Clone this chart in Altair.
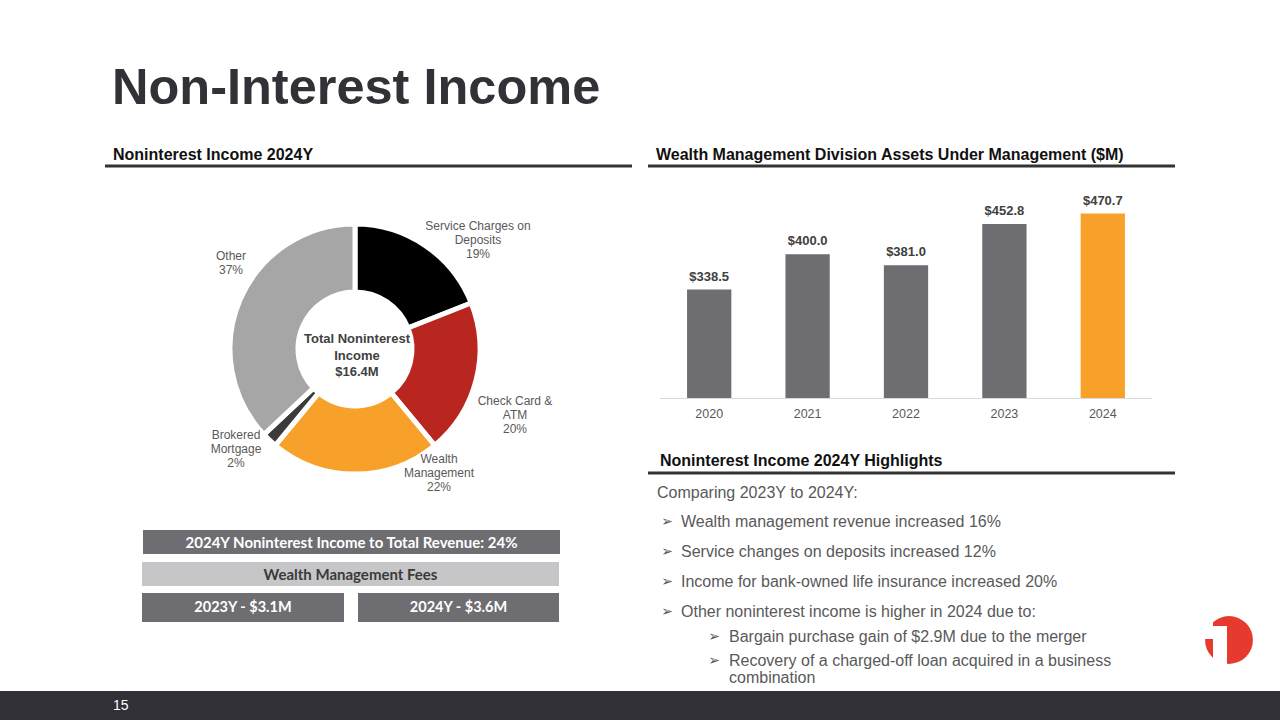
import altair as alt
import pandas as pd

# ---------------- data ----------------
years = ["2020", "2021", "2022", "2023", "2024"]
aum_values = [338.5, 400.0, 381.0, 452.8, 470.7]
bar_colors = ["#6e6d72", "#6e6d72", "#6e6d72", "#6e6d72", "#f7a12a"]

pie_categories = ["Service Charges on Deposits", "Check Card & ATM", "Wealth Management",
                  "Brokered Mortgage", "Other"]
pie_shares = [19, 20, 22, 2, 37]
pie_colors = ["#000000", "#b8261f", "#f7a12a", "#3b3b3d", "#a6a6a6"]
pie_label_lines = [["Service Charges on", "Deposits"], ["Check Card &", "ATM"],
                   ["Wealth", "Management"], ["Brokered", "Mortgage"], ["Other"]]

highlights_intro = "Comparing 2023Y to 2024Y:"
highlights = ["Wealth management revenue increased 16%",
              "Service changes on deposits increased 12%",
              "Income for bank-owned life insurance increased 20%",
              "Other noninterest income is higher in 2024 due to:"]
sub_highlights = ["Bargain purchase gain of $2.9M due to the merger",
                  "Recovery of a charged-off loan acquired in a business\ncombination"]

box_ratio = "2024Y Noninterest Income to Total Revenue: 24%"
box_fees_title = "Wealth Management Fees"
box_fees = ["2023Y - $3.1M", "2024Y - $3.6M"]

FONT = "Liberation Sans"
dummy = pd.DataFrame({"d": [0]})


def txt(s, x, y, size, color, weight="normal", align="left", baseline="middle",
        font=FONT, line_height=None):
    kw = dict(text=s, align=align, baseline=baseline, fontSize=size,
              fontWeight=weight, color=color, font=font)
    if line_height:
        kw["lineHeight"] = line_height
    return alt.Chart(dummy).mark_text(**kw).encode(x=alt.value(x), y=alt.value(y))


def rect(x1, x2, y1, y2, color):
    return alt.Chart(dummy).mark_rect(color=color).encode(
        x=alt.value(x1), x2=alt.value(x2), y=alt.value(y1), y2=alt.value(y2))


def hline(x1, x2, y, color="#333333", w=3):
    return alt.Chart(dummy).mark_rule(color=color, strokeWidth=w).encode(
        x=alt.value(x1), x2=alt.value(x2), y=alt.value(y))


layers = []

# title and section headers
layers.append(txt("Non-Interest Income", 112, 104, 50.5, "#323137", "bold", baseline="alphabetic"))
layers.append(txt("Noninterest Income 2024Y", 113, 159.5, 16, "#111111", "bold", baseline="alphabetic"))
layers.append(hline(105, 632, 166))
layers.append(txt("Wealth Management Division Assets Under Management ($M)", 656, 159.5, 16,
                  "#111111", "bold", baseline="alphabetic"))
layers.append(hline(648, 1175, 166))
layers.append(txt("Noninterest Income 2024Y Highlights", 660, 466, 16, "#111111", "bold",
                  baseline="alphabetic"))
layers.append(hline(648, 1175, 473))

# ---------------- donut ----------------
pie_df = pd.DataFrame({"cat": pie_categories, "share": pie_shares,
                       "order": list(range(len(pie_categories)))})
donut = alt.Chart(pie_df).mark_arc(innerRadius=57, outerRadius=125, stroke="white",
                                   strokeWidth=5).encode(
    theta=alt.Theta("share:Q", stack=True),
    color=alt.Color("cat:N", scale=alt.Scale(domain=pie_categories, range=pie_colors), legend=None),
    order=alt.Order("order:Q"),
    x=alt.value(355), y=alt.value(349),
)
layers.append(donut)

lab = [lines + [f"{p}%"] for lines, p in zip(pie_label_lines, pie_shares)]
layers.append(txt(lab[0], 478, 226, 12, "#595959", align="center", line_height=14))
layers.append(txt(lab[1], 515, 401, 12, "#595959", align="center", line_height=14))
layers.append(txt(lab[2], 439, 459, 12, "#595959", align="center", line_height=14))
layers.append(txt(lab[3], 236, 435, 12, "#595959", align="center", line_height=14))
layers.append(txt(lab[4], 231, 256, 12, "#595959", align="center", line_height=14))

layers.append(txt(["Total Noninterest", "Income", "$16.4M"], 357, 339, 13, "#3f3f3f", "bold",
                  align="center", line_height=16.5))

# ---------------- boxes ----------------
BOXF = "Lato"
layers.append(rect(143, 560, 530, 554, "#6e6d72"))
layers.append(txt(box_ratio, 351.5, 542.5, 15, "white", "bold", align="center", font=BOXF))
layers.append(rect(142, 559, 562, 586, "#c6c6c8"))
layers.append(txt(box_fees_title, 350.5, 574.5, 15, "#3a3a3a", "bold", align="center", font=BOXF))
layers.append(rect(142, 344, 593, 622, "#6e6d72"))
layers.append(txt(box_fees[0], 243, 607.5, 14.5, "white", "bold", align="center", font=BOXF))
layers.append(rect(358, 559, 593, 622, "#6e6d72"))
layers.append(txt(box_fees[1], 458.5, 607.5, 14.5, "white", "bold", align="center", font=BOXF))

# ---------------- bar chart ----------------
bar_df = pd.DataFrame({"year": years, "aum": aum_values,
                       "label": [f"${v:.1f}" for v in aum_values]})
xs = alt.X("year:N", scale=alt.Scale(domain=years, range=[660, 1152],
                                     paddingInner=0.55, paddingOuter=0.275), axis=None)
ys = alt.Y("aum:Q", scale=alt.Scale(domain=[150, 500], range=[398, 196.75],
                                    nice=False, zero=False), axis=None)
bars = alt.Chart(bar_df).mark_bar().encode(
    x=xs, y=ys, y2=alt.datum(150),
    color=alt.Color("year:N", scale=alt.Scale(domain=years, range=bar_colors), legend=None),
)
bar_labels = alt.Chart(bar_df).mark_text(baseline="bottom", dy=-6, fontSize=13,
                                         fontWeight="bold", color="#404040", font=FONT).encode(
    x=xs, y=ys, text="label:N")
year_labels = alt.Chart(bar_df).mark_text(baseline="middle", fontSize=12.5, color="#595959",
                                          font=FONT).encode(
    x=xs, y=alt.value(414), text="year:N")
layers.append(hline(660, 1152, 398.5, color="#d9d9d9", w=1))
layers += [bars, bar_labels, year_labels]

# ---------------- highlights ----------------
HC = "#595959"
layers.append(txt(highlights_intro, 657, 493, 16, HC))
for s, y in zip(highlights, [522, 552, 582, 612]):
    layers.append(txt("➢", 667, y, 14, HC, align="center", font="DejaVu Sans"))
    layers.append(txt(s, 681, y, 16, HC))
for s, y in zip(sub_highlights, [637, 661]):
    layers.append(txt("➢", 714, y, 14, HC, align="center", font="DejaVu Sans"))
    layers.append(txt(s.split("\n"), 729, y, 16, HC, baseline="middle", line_height=17))

# ---------------- logo ----------------
layers.append(alt.Chart(dummy).mark_circle(size=2290, color="#e63a2e", opacity=1).encode(
    x=alt.value(1229), y=alt.value(640)))
layers.append(rect(1213, 1227, 626, 670, "white"))
layers.append(rect(1199, 1213, 610, 639, "white"))

# ---------------- footer ----------------
layers.append(rect(0, 1280, 691, 720, "#303036"))
layers.append(txt("15", 113, 706, 14, "white"))

chart = alt.layer(*layers).resolve_scale(
    x="independent", y="independent", color="independent", theta="independent"
).properties(
    width=1280, height=720, padding=0, background="white",
    autosize=alt.AutoSizeParams(type="none"),
).configure_view(stroke=None)

chart.save("out.html", embed_options={"renderer": "svg", "actions": False})
